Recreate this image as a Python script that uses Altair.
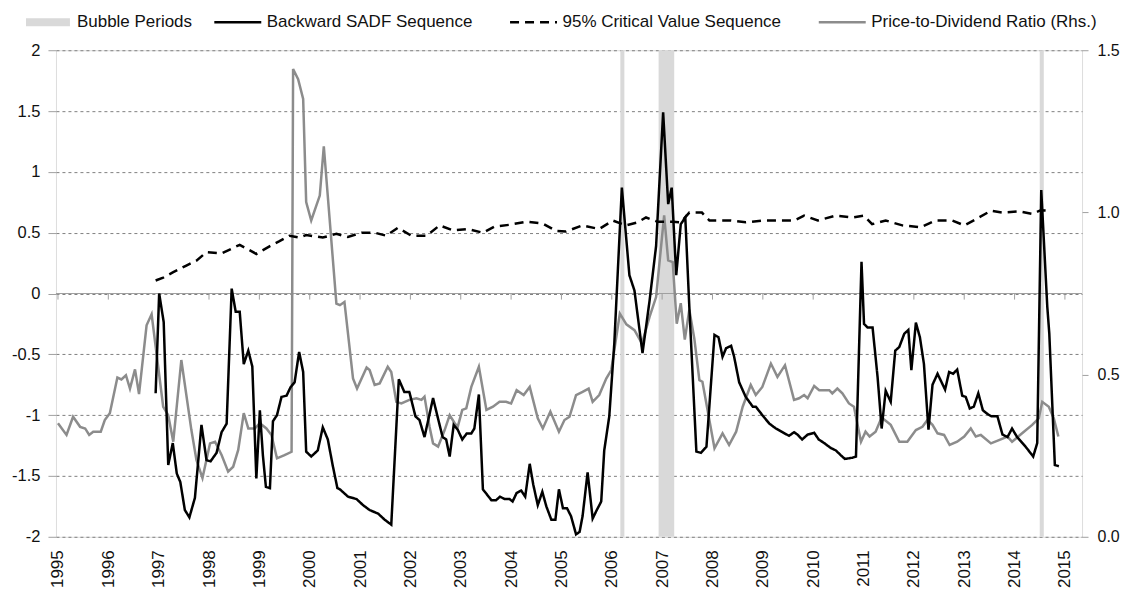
import altair as alt
import pandas as pd

# ---------------- data ----------------
series_names = ["Bubble Periods", "Backward SADF Sequence",
                "95% Critical Value Sequence", "Price-to-Dividend Ratio (Rhs.)"]
series_colors = ["#d9d9d9", "#000000", "#000000", "#8c8c8c"]
series_dashes = [[1, 0], [1, 0], [9, 6], [1, 0]]

bubble_start = [2006.17, 2006.93, 2014.50]
bubble_end = [2006.25, 2007.24, 2014.58]

year_ticks = list(range(1995, 2016))
left_ticks = [-2, -1.5, -1, -0.5, 0, 0.5, 1, 1.5, 2]
right_ticks = [0.0, 0.5, 1.0, 1.5]

pdr_t = [1995.00, 1995.17, 1995.30, 1995.44, 1995.54, 1995.62, 1995.70, 1995.85, 1995.93,
         1996.03, 1996.18, 1996.26, 1996.35, 1996.43, 1996.53, 1996.61, 1996.76, 1996.86,
         1997.09, 1997.19, 1997.29, 1997.45, 1997.65, 1997.75, 1997.87, 1998.02, 1998.12,
         1998.25, 1998.38, 1998.48, 1998.58, 1998.69, 1998.78, 1998.91, 1999.01, 1999.14,
         1999.24, 1999.35, 1999.50, 1999.64, 1999.67, 1999.77, 1999.87, 1999.93, 2000.03,
         2000.20, 2000.28, 2000.53, 2000.60, 2000.69, 2000.86, 2000.94, 2001.13, 2001.19,
         2001.29, 2001.39, 2001.55, 2001.62, 2001.72, 2001.82, 2001.98, 2002.12, 2002.22,
         2002.28, 2002.38, 2002.45, 2002.55, 2002.68, 2002.78, 2002.88, 2002.94, 2003.03,
         2003.11, 2003.21, 2003.36, 2003.51, 2003.64, 2003.77, 2003.90, 2004.00, 2004.11,
         2004.25, 2004.37, 2004.53, 2004.63, 2004.78, 2004.95, 2005.06, 2005.16, 2005.29,
         2005.42, 2005.54, 2005.62, 2005.75, 2005.89, 2005.99, 2006.16, 2006.29, 2006.45,
         2006.60, 2006.75, 2006.88, 2007.04, 2007.12, 2007.21, 2007.29, 2007.37, 2007.45,
         2007.54, 2007.64, 2007.74, 2007.80, 2008.04, 2008.20, 2008.33, 2008.47, 2008.60,
         2008.76, 2008.86, 2008.99, 2009.16, 2009.29, 2009.44, 2009.62, 2009.72, 2009.82,
         2009.89, 2010.02, 2010.12, 2010.32, 2010.38, 2010.48, 2010.58, 2010.71, 2010.81,
         2010.95, 2011.04, 2011.12, 2011.24, 2011.36, 2011.54, 2011.71, 2011.87, 2012.04,
         2012.17, 2012.27, 2012.37, 2012.47, 2012.60, 2012.71, 2012.86, 2013.00, 2013.13,
         2013.23, 2013.33, 2013.53, 2013.69, 2013.86, 2013.95, 2014.15, 2014.35, 2014.48,
         2014.55, 2014.68, 2014.78, 2014.87]
pdr_v = [0.350, 0.314, 0.370, 0.339, 0.334, 0.314, 0.324, 0.324, 0.360,
         0.381, 0.491, 0.485, 0.498, 0.457, 0.516, 0.440, 0.652, 0.686,
         0.401, 0.375, 0.293, 0.545, 0.329, 0.237, 0.181, 0.288, 0.293,
         0.252, 0.201, 0.216, 0.268, 0.381, 0.334, 0.334, 0.350, 0.334,
         0.314, 0.242, 0.252, 0.262, 1.442, 1.411, 1.350, 1.032, 0.975,
         1.052, 1.204, 0.719, 0.714, 0.724, 0.488, 0.457, 0.522, 0.514,
         0.468, 0.473, 0.524, 0.508, 0.416, 0.411, 0.422, 0.427, 0.422,
         0.432, 0.339, 0.288, 0.278, 0.329, 0.375, 0.350, 0.339, 0.391,
         0.396, 0.462, 0.524, 0.391, 0.401, 0.416, 0.416, 0.411, 0.452,
         0.437, 0.462, 0.365, 0.334, 0.386, 0.324, 0.360, 0.370, 0.437,
         0.447, 0.457, 0.416, 0.437, 0.488, 0.514, 0.688, 0.655, 0.637,
         0.596, 0.678, 0.739, 0.991, 0.852, 0.847, 0.657, 0.720, 0.608,
         0.700, 0.610, 0.483, 0.478, 0.273, 0.319, 0.283, 0.324, 0.401,
         0.468, 0.437, 0.462, 0.534, 0.493, 0.529, 0.422, 0.427, 0.437,
         0.427, 0.465, 0.452, 0.452, 0.442, 0.457, 0.442, 0.411, 0.401,
         0.293, 0.324, 0.309, 0.324, 0.368, 0.345, 0.293, 0.293, 0.329,
         0.339, 0.360, 0.345, 0.319, 0.314, 0.283, 0.293, 0.309, 0.334,
         0.309, 0.314, 0.288, 0.298, 0.309, 0.293, 0.319, 0.345, 0.365,
         0.416, 0.401, 0.365, 0.309]

sadf_t = [1996.94, 1997.01, 1997.10, 1997.19, 1997.28, 1997.36, 1997.43, 1997.52, 1997.61,
          1997.72, 1997.85, 1997.95, 1998.03, 1998.15, 1998.25, 1998.35, 1998.45, 1998.53,
          1998.61, 1998.69, 1998.78, 1998.86, 1998.94, 1999.01, 1999.07, 1999.13, 1999.21,
          1999.27, 1999.35, 1999.44, 1999.54, 1999.62, 1999.70, 1999.79, 1999.87, 1999.93,
          2000.03, 2000.16, 2000.26, 2000.36, 2000.46, 2000.55, 2000.60, 2000.76, 2000.93,
          2001.06, 2001.19, 2001.36, 2001.49, 2001.62, 2001.77, 2001.88, 2001.98, 2002.10,
          2002.18, 2002.28, 2002.45, 2002.55, 2002.64, 2002.71, 2002.78, 2002.86, 2002.94,
          2003.03, 2003.12, 2003.21, 2003.27, 2003.36, 2003.44, 2003.61, 2003.70, 2003.78,
          2003.87, 2003.97, 2004.03, 2004.11, 2004.20, 2004.28, 2004.37, 2004.44, 2004.53,
          2004.62, 2004.70, 2004.80, 2004.88, 2004.95, 2005.03, 2005.11, 2005.19, 2005.29,
          2005.36, 2005.42, 2005.52, 2005.62, 2005.69, 2005.79, 2005.85, 2005.95, 2006.05,
          2006.20, 2006.35, 2006.45, 2006.61, 2006.75, 2006.88, 2007.02, 2007.12, 2007.19,
          2007.28, 2007.37, 2007.46, 2007.54, 2007.68, 2007.77, 2007.88, 2008.04, 2008.12,
          2008.20, 2008.27, 2008.37, 2008.43, 2008.53, 2008.66, 2008.80, 2008.86, 2008.99,
          2009.13, 2009.26, 2009.39, 2009.52, 2009.62, 2009.69, 2009.78, 2009.89, 2010.02,
          2010.11, 2010.22, 2010.35, 2010.45, 2010.55, 2010.63, 2010.78, 2010.85, 2010.96,
          2011.01, 2011.08, 2011.18, 2011.28, 2011.36, 2011.44, 2011.54, 2011.63, 2011.71,
          2011.81, 2011.89, 2011.95, 2012.04, 2012.12, 2012.20, 2012.29, 2012.37, 2012.47,
          2012.62, 2012.70, 2012.78, 2012.86, 2012.96, 2013.03, 2013.11, 2013.19, 2013.28,
          2013.37, 2013.46, 2013.54, 2013.66, 2013.76, 2013.86, 2013.95, 2014.05, 2014.22,
          2014.37, 2014.45, 2014.53, 2014.65, 2014.69, 2014.80, 2014.88]
sadf_v = [-0.82, 0.00, -0.235, -1.41, -1.23, -1.48, -1.55, -1.78, -1.84,
          -1.68, -1.08, -1.37, -1.38, -1.31, -1.14, -1.07, 0.04, -0.15,
          -0.15, -0.58, -0.47, -0.60, -1.52, -0.96, -1.33, -1.59, -1.60,
          -1.05, -1.00, -0.85, -0.84, -0.77, -0.73, -0.48, -0.645, -1.30,
          -1.34, -1.29, -1.10, -1.20, -1.42, -1.60, -1.61, -1.67, -1.69,
          -1.74, -1.78, -1.81, -1.86, -1.90, -0.705, -0.81, -0.81, -1.01,
          -1.04, -1.18, -0.86, -1.03, -1.18, -1.20, -1.34, -1.08, -1.12,
          -1.20, -1.15, -1.15, -1.11, -0.83, -1.61, -1.70, -1.70, -1.67,
          -1.69, -1.69, -1.71, -1.64, -1.62, -1.67, -1.40, -1.57, -1.74,
          -1.63, -1.75, -1.86, -1.86, -1.61, -1.765, -1.765, -1.83, -1.98,
          -1.96, -1.83, -1.47, -1.85, -1.79, -1.71, -1.29, -1.01, -0.41,
          0.87, 0.15, 0.025, -0.49, -0.06, 0.39, 1.49, 0.735, 0.87,
          0.15, 0.57, 0.625, -0.11, -1.30, -1.31, -1.26, -0.34, -0.36,
          -0.52, -0.45, -0.43, -0.52, -0.73, -0.85, -0.93, -0.93, -1.00,
          -1.07, -1.11, -1.14, -1.17, -1.14, -1.16, -1.20, -1.16, -1.145,
          -1.20, -1.23, -1.27, -1.29, -1.33, -1.36, -1.35, -1.34, 0.26,
          -0.25, -0.28, -0.28, -0.69, -1.11, -0.80, -0.89, -0.47, -0.44,
          -0.33, -0.30, -0.63, -0.24, -0.36, -0.58, -1.12, -0.75, -0.66,
          -0.79, -0.645, -0.66, -0.625, -0.84, -0.85, -0.945, -0.93, -0.82,
          -0.96, -0.99, -1.01, -1.01, -1.16, -1.18, -1.11, -1.18, -1.26,
          -1.34, -1.23, 0.85, -0.11, -0.33, -1.41, -1.42]

cv_t = [1996.94, 1997.09, 1997.29, 1997.55, 1997.75, 1997.95, 1998.25, 1998.61, 1998.94,
        1999.21, 1999.40, 1999.60, 1999.80, 1999.93, 2000.26, 2000.53, 2000.76, 2001.03,
        2001.29, 2001.52, 2001.75, 2002.02, 2002.32, 2002.58, 2002.84, 2003.14, 2003.44,
        2003.67, 2003.97, 2004.30, 2004.63, 2004.89, 2005.09, 2005.42, 2005.75, 2006.02,
        2006.28, 2006.51, 2006.68, 2006.91, 2007.21, 2007.37, 2007.54, 2007.79, 2007.94,
        2008.37, 2008.66, 2008.99, 2009.33, 2009.62, 2009.82, 2010.09, 2010.45, 2010.78,
        2011.01, 2011.17, 2011.44, 2011.77, 2012.14, 2012.43, 2012.76, 2013.00, 2013.23,
        2013.53, 2013.76, 2014.09, 2014.35, 2014.52, 2014.72]
cv_v = [0.107, 0.13, 0.175, 0.23, 0.27, 0.34, 0.33, 0.40, 0.325,
        0.39, 0.43, 0.475, 0.46, 0.48, 0.46, 0.49, 0.465, 0.50,
        0.50, 0.475, 0.54, 0.475, 0.475, 0.56, 0.52, 0.53, 0.50,
        0.55, 0.565, 0.59, 0.575, 0.515, 0.51, 0.56, 0.53, 0.60,
        0.56, 0.585, 0.625, 0.59, 0.59, 0.585, 0.665, 0.665, 0.60,
        0.60, 0.585, 0.60, 0.60, 0.60, 0.64, 0.60, 0.64, 0.625,
        0.64, 0.57, 0.60, 0.56, 0.545, 0.60, 0.60, 0.56, 0.61,
        0.68, 0.665, 0.675, 0.655, 0.685, 0.68]

# ---------------- tables ----------------
lines_df = pd.concat([
    pd.DataFrame({"t": sadf_t, "v": sadf_v, "series": series_names[1]}),
    pd.DataFrame({"t": cv_t, "v": cv_v, "series": series_names[2]}),
], ignore_index=True)
pdr_df = pd.DataFrame({"t": pdr_t, "r": pdr_v})
bub_df = pd.DataFrame({"start": bubble_start, "end": bubble_end,
                       "lo": min(left_ticks), "hi": max(left_ticks),
                       "kind": series_names[0]})
zero_df = pd.DataFrame({"v": [0]})
tick_df = pd.DataFrame({"t": year_ticks, "v0": 0, "v1": -0.05})

W, H = 1027, 487
FONT = "Liberation Sans"
GRID = "#a0a0a0"
TXT = "#111111"

xs = alt.Scale(domain=[1994.96, 2015.34], nice=False, zero=False)
x_axis = alt.Axis(values=year_ticks, format="d", labelAngle=270, domain=False,
                  ticks=False, grid=False, labelFontSize=17, labelPadding=13,
                  title=None, labelColor=TXT, labelFont=FONT)
ys_left = alt.Scale(domain=[-2, 2], nice=False, zero=False)
y_axis = alt.Axis(orient="left", values=left_ticks, labelExpr="datum.value + ''",
                  domain=False, ticks=True, tickSize=8, tickColor=GRID,
                  grid=True, gridDash=[3, 3], gridColor="#7f7f7f", gridWidth=1,
                  labelFontSize=16.5, labelPadding=8, title=None,
                  labelColor=TXT, labelFont=FONT)
ys_right = alt.Scale(domain=[0, 1.5], nice=False, zero=False)
r_axis = alt.Axis(orient="right", values=right_ticks, format=".1f", domain=False,
                  ticks=True, tickSize=6, tickColor=GRID, grid=False,
                  labelFontSize=16, labelPadding=9, title=None,
                  labelColor=TXT, labelFont=FONT)

bubble_legend = alt.Legend(
    title=None, orient="none", legendX=-30, legendY=-50, direction="horizontal",
    labelFontSize=17, labelFont=FONT, labelColor=TXT,
    symbolType="M-1,-0.18H1V0.18H-1Z", symbolSize=1936, symbolStrokeWidth=0,
    labelOffset=7, labelLimit=400,
)
line_legend = alt.Legend(
    title=None, orient="none", legendX=157, legendY=-53, direction="horizontal",
    labelFontSize=17, labelFont=FONT, labelColor=TXT, symbolType="stroke",
    symbolSize=2209, symbolStrokeWidth=2.5, labelOffset=4, columnPadding=32,
    labelLimit=400,
)

bubbles = alt.Chart(bub_df).mark_rect().encode(
    x=alt.X("start:Q", scale=xs, axis=x_axis),
    x2="end:Q",
    y=alt.Y("hi:Q", scale=ys_left, axis=y_axis),
    y2="lo:Q",
    fill=alt.Fill("kind:N", scale=alt.Scale(domain=series_names[:1], range=series_colors[:1]),
                  legend=bubble_legend),
)
zero_line = alt.Chart(zero_df).mark_rule(color=GRID, strokeWidth=1).encode(
    y=alt.Y("v:Q", scale=ys_left, axis=y_axis),
)
year_marks = alt.Chart(tick_df).mark_rule(color=GRID, strokeWidth=1).encode(
    x=alt.X("t:Q", scale=xs, axis=x_axis),
    y=alt.Y("v0:Q", scale=ys_left, axis=y_axis),
    y2="v1:Q",
)
back = alt.layer(bubbles, zero_line, year_marks)

pdr_line = alt.Chart(pdr_df).mark_line(color=series_colors[3], strokeWidth=2.5).encode(
    x=alt.X("t:Q", scale=xs, axis=x_axis),
    y=alt.Y("r:Q", scale=ys_right, axis=r_axis),
)

left_lines = alt.Chart(lines_df).mark_line(strokeWidth=2.5).encode(
    x=alt.X("t:Q", scale=xs, axis=x_axis),
    y=alt.Y("v:Q", scale=ys_left, axis=None),
    color=alt.Color("series:N",
                    scale=alt.Scale(domain=series_names[1:], range=series_colors[1:]),
                    legend=line_legend),
    strokeDash=alt.StrokeDash("series:N",
                              scale=alt.Scale(domain=series_names[1:], range=series_dashes[1:]),
                              legend=line_legend),
)

chart = alt.layer(back, pdr_line, left_lines).resolve_scale(
    y="independent"
).properties(
    width=W, height=H,
    autosize=alt.AutoSizeParams(type="none"),
    padding={"left": 48, "top": 42, "right": 38, "bottom": 52},
).configure_view(
    stroke=GRID, strokeWidth=1
).configure(background="white")

chart.save("out.html", embed_options={"renderer": "svg", "actions": False})
